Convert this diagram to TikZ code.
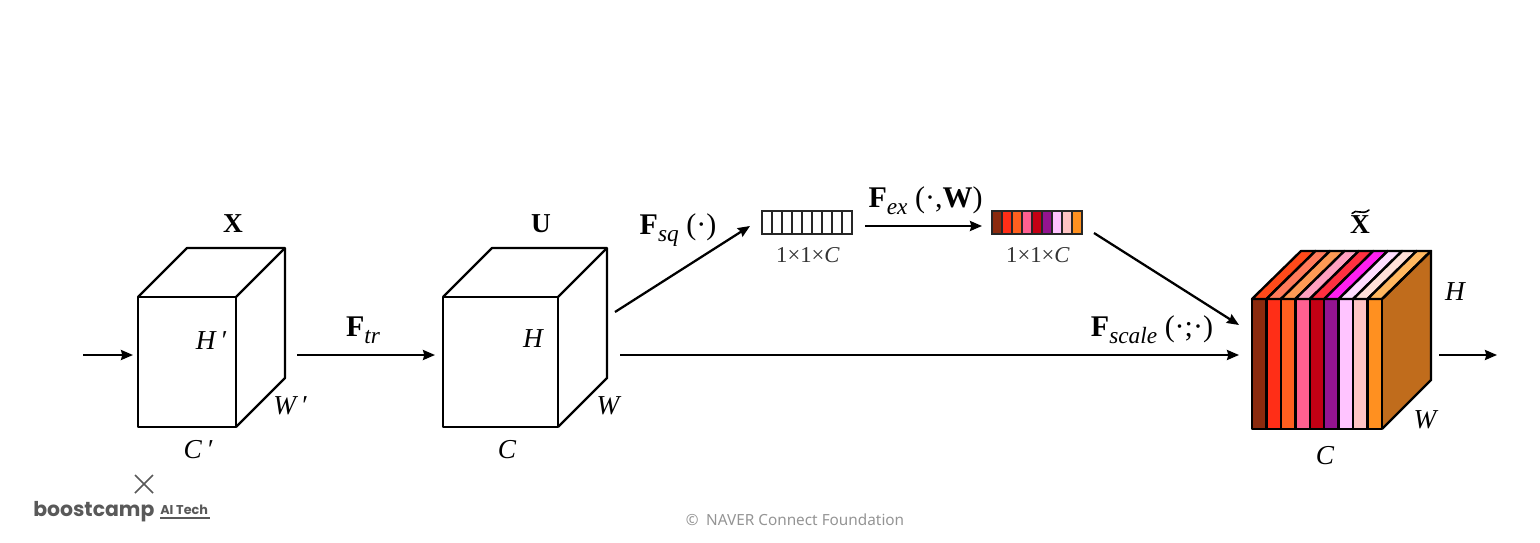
\documentclass[tikz,border=0pt]{standalone}
\usepackage{fontspec}
\setmainfont{Liberation Serif}
\newfontfamily\logofont{Poppins}
\newfontfamily\notefont{Noto Sans}
\usetikzlibrary{arrows.meta}
\newcommand{\fsz}[1]{\fontsize{#1}{#1}\selectfont}
\newcommand{\FF}[1]{\textbf{F}\raisebox{-.24em}{\fsz{17.5}\itshape #1}}
\tikzset{
  px/.style={x=0.75pt,y=-0.75pt},
  edge/.style={draw=black,line width=1.8pt,line join=round},
  thinedge/.style={draw=black!85,line width=1.2pt},
  conn/.style={draw=black,line width=1.7pt,-{Stealth[length=9pt,width=7.5pt,inset=1pt]}},
  dim/.style={inner sep=0pt,font=\fsz{20.5}\itshape},
  bold/.style={inner sep=0pt,font=\fsz{20.5}\bfseries},
  func/.style={inner sep=0pt,font=\fsz{22.5}},
  size/.style={inner sep=0pt,font=\fsz{17},text=black!80},
  cross/.style={draw=black!65,line width=1.3pt},
}
\begin{document}
\begin{tikzpicture}[px]
\useasboundingbox (0,0) rectangle (1540,542);
% cube X
\coordinate (xfa) at (138,297); \coordinate (xfb) at (236,297);
\coordinate (xfc) at (236,427); \coordinate (xfd) at (138,427);
\coordinate (xba) at (187,248); \coordinate (xbb) at (285,248); \coordinate (xbc) at (285,378);
\draw[edge] (xfa) -- (xfb) -- (xfc) -- (xfd) -- cycle;
\draw[edge] (xfa) -- (xba) -- (xbb) -- (xbc) -- (xfc);
\draw[edge] (xfb) -- (xbb);
% cube U
\coordinate (ufa) at (443,297); \coordinate (ufb) at (558,297);
\coordinate (ufc) at (558,427); \coordinate (ufd) at (443,427);
\coordinate (uba) at (492,248); \coordinate (ubb) at (607,248); \coordinate (ubc) at (607,378);
\draw[edge] (ufa) -- (ufb) -- (ufc) -- (ufd) -- cycle;
\draw[edge] (ufa) -- (uba) -- (ubb) -- (ubc) -- (ufc);
\draw[edge] (ufb) -- (ubb);
% cube X tilde: side
\coordinate (tfb) at (1382,299); \coordinate (tfc) at (1382,429);
\coordinate (tbb) at (1431,251); \coordinate (tbc) at (1431,380);
\fill[fill={rgb,255:red,192;green,108;blue,28}] (tfb) -- (tbb) -- (tbc) -- (tfc) -- cycle;
% stripes (front and top)
\foreach \i/\fc/\tc in {
 0/8B2A0E/FF4A1A,1/FF2E17/FF7A5A,2/FF5F1F/FF9A55,
 3/FF6090/FFA0C0,4/C40014/FF3040,5/941490/FF20F0,
 6/FFC4FF/FFDDFF,7/FFC4C4/FFE0D8,8/FF9020/FFB860}{
  \definecolor{fcol}{HTML}{\fc}\definecolor{tcol}{HTML}{\tc}
  \pgfmathsetmacro{\xa}{1252+\i*14.444}
  \pgfmathsetmacro{\xb}{\xa+14.444}
  \filldraw[fill=fcol,edge] (\xa,299) rectangle (\xb,429);
  \filldraw[fill=tcol,edge] (\xa,299) -- ({\xa+49},251) -- ({\xb+49},251) -- (\xb,299) -- cycle;
}
\draw[edge] (tfb) -- (tbb) -- (tbc) -- (tfc);
% small bars
\foreach \i in {0,...,8}{
  \pgfmathsetmacro{\xa}{762+\i*10}
  \draw[thinedge] (\xa,211) rectangle ({\xa+10},234);
}
\foreach \i/\fc in {0/8B2A0E,1/FF2E17,2/FF5F1F,3/FF6090,4/C40014,5/941490,6/FFC4FF,7/FFC4C4,8/FF9020}{
  \definecolor{fcol}{HTML}{\fc}
  \pgfmathsetmacro{\xa}{992+\i*10}
  \filldraw[fill=fcol,thinedge] (\xa,211) rectangle ({\xa+10},234);
}
% connector ends
\coordinate (ina) at (83,355);    \coordinate (inb) at (133,355);
\coordinate (ftra) at (297,355);  \coordinate (ftrb) at (435,355);
\coordinate (sqa) at (615,312);   \coordinate (sqb) at (750,226);
\coordinate (exa) at (865,226);   \coordinate (exb) at (982,226);
\coordinate (sca) at (1094,233);  \coordinate (scb) at (1239,325);
\coordinate (mida) at (620,355);  \coordinate (midb) at (1239,355);
\coordinate (outa) at (1439,355); \coordinate (outb) at (1497,355);
\draw[conn] (ina) -- (inb);
\draw[conn] (ftra) -- (ftrb);
\draw[conn] (sqa) -- (sqb);
\draw[conn] (exa) -- (exb);
\draw[conn] (sca) -- (scb);
\draw[conn] (mida) -- (midb);
\draw[conn] (outa) -- (outb);
% labels
\node[bold] (lx) at (233,224) {X};
\node[bold] (lu) at (541,224) {U};
\node[bold] (lt) at (1360,225) {X};
\draw[line width=1.2pt,line cap=round] (1352,213.5) .. controls (1356,208) and (1362,216) .. (1369,210);
\node[dim] (hp) at (211,341) {H\,′};
\node[dim] (wp) at (290,406) {W\,′};
\node[dim] (cp) at (198,450) {C\,′};
\node[dim] (hu) at (533,339) {H};
\node[dim] (wu) at (608,406) {W};
\node[dim] (cu) at (507,450) {C};
\node[dim] (ht) at (1455,292) {H};
\node[dim] (wt) at (1425,420) {W};
\node[dim] (ct) at (1325,456) {C};
\node[func] (ftr) at (363,330) {\FF{tr}};
\node[func] (fsq) at (678,230) {\FF{sq} (·)};
\node[func] (fex) at (925.5,201) {\FF{ex} (·,\textbf{W})};
\node[func] (fsc) at (1152,330) {\FF{scale} (·;·)};
\node[size] (sa) at (808,255) {1×1×\textit{C}};
\node[size] (sb) at (1038,255) {1×1×\textit{C}};
% logo
\coordinate (cra) at (135,475); \coordinate (crb) at (153,493);
\coordinate (crc) at (135,493); \coordinate (crd) at (153,475);
\draw[cross] (cra) -- (crb);
\draw[cross] (crc) -- (crd);
\node[inner sep=0pt,anchor=base west,text=black!65,font=\logofont\fsz{15.3}\bfseries] (bc) at (33,516) {boostcamp};
\node[inner sep=0pt,anchor=base west,text=black!65,font=\logofont\fsz{9.6}\bfseries] (ai) at (160,514.5) {AI Tech};
\coordinate (ula) at (160,518); \coordinate (ulb) at (210,518);
\draw[draw=black!65,line width=1pt] (ula) -- (ulb);
\node[inner sep=0pt,text=black!42,font=\notefont\fsz{11.5}] (cr) at (795,520) {©\enspace NAVER Connect Foundation};
\end{tikzpicture}
\end{document}
